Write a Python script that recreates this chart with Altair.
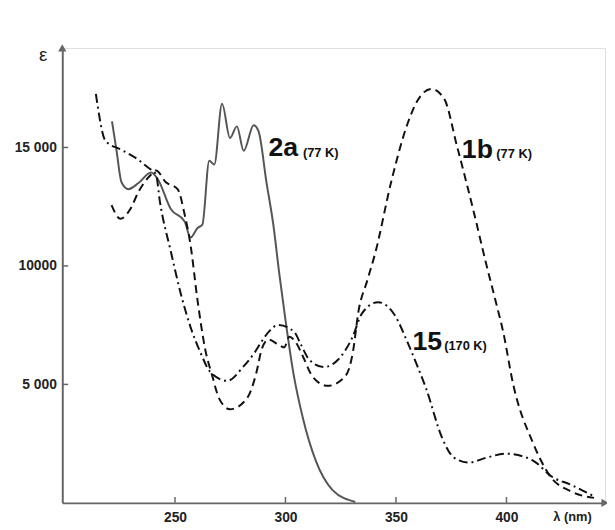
import altair as alt
import pandas as pd

# ---- data ----
lam_2a = [221.5, 223.5, 225.8, 228.9, 233.5, 239.2, 242.3, 248.1, 254.4, 257.0, 260.2, 262.4,
          265.5, 267.8, 271.3, 274.9, 278.0, 281.1, 285.6, 287.8, 291.4, 294.5, 297.2, 299.4,
          303.5, 307.9, 313.7, 321.3, 331.6]
eps_2a = [16100, 14900, 13530, 13240, 13500, 13940, 13650, 12400, 11870, 11200, 11600, 11740,
          14440, 14280, 16850, 15400, 15890, 14860, 15940, 15690, 13530, 11740, 9670, 8130,
          5520, 3570, 1780, 540, 40]

lam_1b = [221.3, 225.3, 229.8, 233.4, 239.2, 241.4, 245.9, 251.2, 254.4, 257.0, 260.2, 263.7,
          266.9, 270.0, 274.9, 282.5, 286.9, 289.2, 292.3, 296.8, 299.4, 301.7, 304.8, 307.9,
          312.4, 319.1, 327.1, 330.7, 332.9, 337.0, 340.5, 348.1, 355.3, 359.7, 366.0, 371.8,
          377.6, 385.2, 390.5, 395.0, 398.6, 403.0, 412.0, 419.5, 429.8, 439.6]
eps_1b = [12570, 11990, 12400, 13110, 13860, 14030, 13530, 13240, 12160, 10910, 8550, 6470,
          5350, 4400, 3950, 4400, 5520, 6470, 6890, 6680, 6560, 7010, 6760, 6180,
          5310, 4940, 5350, 6470, 8010, 9380, 10500, 13650, 16020, 16970, 17470, 17060,
          15060, 12280, 10210, 8550, 7180, 5020, 2530, 1160, 460, 210]

lam_15 = [214.2, 218.6, 225.8, 233.4, 237.8, 241.4, 243.2, 248.1, 252.6, 257.0, 261.5, 266.0,
          273.6, 281.1, 286.1, 289.2, 292.8, 296.8, 303.9, 307.0, 310.6, 317.3, 324.0, 330.2,
          334.7, 341.9, 349.4, 355.3, 359.7, 363.7, 370.9, 376.2, 382.9, 391.0, 399.9, 412.0,
          420.9, 428.5, 440.1]
eps_15 = [17260, 15270, 14900, 14480, 14150, 13860, 12700, 10620, 8840, 7430, 6350, 5520,
          5150, 5770, 6350, 6810, 7260, 7510, 7220, 6680, 6060, 5730, 6060, 6970,
          8010, 8470, 7930, 6760, 5770, 4810, 2740, 1910, 1700, 1910, 2075, 1785,
          1080, 790, 250]

x_ticks = [250, 300, 350, 400]
y_ticks = [5000, 10000, 15000]

# series annotations (text, wavelength, epsilon)
big_labels = ["2a", "1b", "15"]
big_lam = [292.3, 379.8, 357.5]
big_eps = [14650, 14570, 6470]
small_labels = ["(77 K)", "(77 K)", "(170 K)"]
small_lam = [307.9, 395.4, 371.8]
small_eps = [14610, 14570, 6470]

X_DOM = [199, 444.6]
Y_DOM = [0, 19200]
W, H = 550, 461
FONT = "Liberation Sans"

xs = alt.Scale(domain=X_DOM, nice=False, zero=False)
ys = alt.Scale(domain=Y_DOM, nice=False, zero=False)

df_2a = pd.DataFrame({"lam": lam_2a, "eps": eps_2a})
df_1b = pd.DataFrame({"lam": lam_1b, "eps": eps_1b})
df_15 = pd.DataFrame({"lam": lam_15, "eps": eps_15})

x_axis = alt.Axis(values=x_ticks, tickSize=0, labelPadding=8, labelFontSize=14,
                  labelFontWeight="bold", labelFont=FONT, labelColor="#222",
                  domainColor="#666", domainWidth=2, grid=False,
                  title="λ (nm)", titleX=497, titleY=8, titleAlign="left",
                  titleBaseline="top", titleFontSize=13, titleFont=FONT,
                  titleFontWeight="bold", titleColor="#222")
label_expr = "datum.value == 15000 ? '15 000' : datum.value == 10000 ? '10000' : '5 000'"
y_axis = alt.Axis(values=y_ticks, tickSize=0, labelPadding=6, labelFontSize=14,
                  labelFontWeight="bold", labelFont=FONT, labelColor="#222",
                  labelExpr=label_expr, domainColor="#666", domainWidth=2, grid=False,
                  title="ε", titleAngle=0, titleX=-24, titleY=13, titleAlign="left",
                  titleBaseline="alphabetic", titleFontSize=19, titleFont=FONT,
                  titleFontWeight="normal", titleColor="#222")

line_2a = alt.Chart(df_2a).mark_line(color="#555", strokeWidth=2, interpolate="monotone").encode(
    x=alt.X("lam:Q", scale=xs, axis=x_axis),
    y=alt.Y("eps:Q", scale=ys, axis=y_axis),
)
line_1b = alt.Chart(df_1b).mark_line(color="#111", strokeWidth=2, strokeDash=[8, 5],
                                     interpolate="monotone").encode(
    x=alt.X("lam:Q", scale=xs), y=alt.Y("eps:Q", scale=ys))
line_15 = alt.Chart(df_15).mark_line(color="#111", strokeWidth=2, strokeDash=[9, 4, 2, 4],
                                     interpolate="monotone").encode(
    x=alt.X("lam:Q", scale=xs), y=alt.Y("eps:Q", scale=ys))

# inward ticks
xt = alt.Chart(pd.DataFrame({"t": x_ticks})).mark_rule(color="#666", strokeWidth=1.5).encode(
    x=alt.X("t:Q", scale=xs), y=alt.value(H), y2=alt.value(H - 6))
yt = alt.Chart(pd.DataFrame({"t": y_ticks})).mark_rule(color="#666", strokeWidth=1.5).encode(
    y=alt.Y("t:Q", scale=ys), x=alt.value(0), x2=alt.value(6))

# axis arrowheads
arr_up = alt.Chart(pd.DataFrame({"x": [X_DOM[0]], "y": [Y_DOM[1]]})).mark_point(
    shape="triangle-up", filled=True, color="#666", size=70, opacity=1).encode(
    x=alt.X("x:Q", scale=xs), y=alt.Y("y:Q", scale=ys))
arr_right = alt.Chart(pd.DataFrame({"x": [X_DOM[1]], "y": [Y_DOM[0]]})).mark_point(
    shape="triangle-right", filled=True, color="#666", size=70, opacity=1).encode(
    x=alt.X("x:Q", scale=xs), y=alt.Y("y:Q", scale=ys))

big = alt.Chart(pd.DataFrame({"t": big_labels, "x": big_lam, "y": big_eps})).mark_text(
    align="left", baseline="alphabetic", font=FONT, fontSize=27, fontWeight="bold",
    color="#111").encode(x=alt.X("x:Q", scale=xs), y=alt.Y("y:Q", scale=ys), text="t:N")
small = alt.Chart(pd.DataFrame({"t": small_labels, "x": small_lam, "y": small_eps})).mark_text(
    align="left", baseline="alphabetic", font=FONT, fontSize=13, fontWeight="bold",
    color="#111").encode(x=alt.X("x:Q", scale=xs), y=alt.Y("y:Q", scale=ys), text="t:N")

chart = alt.layer(line_2a, line_1b, line_15, xt, yt, arr_up, arr_right, big, small).properties(
    width=W, height=H,
    autosize=alt.AutoSizeParams(type="none"),
    padding={"left": 55, "top": 37, "right": 2, "bottom": 23},
).configure_view(stroke=None).configure(background="white")

chart.save("out.html", embed_options={"renderer": "svg", "actions": False})
